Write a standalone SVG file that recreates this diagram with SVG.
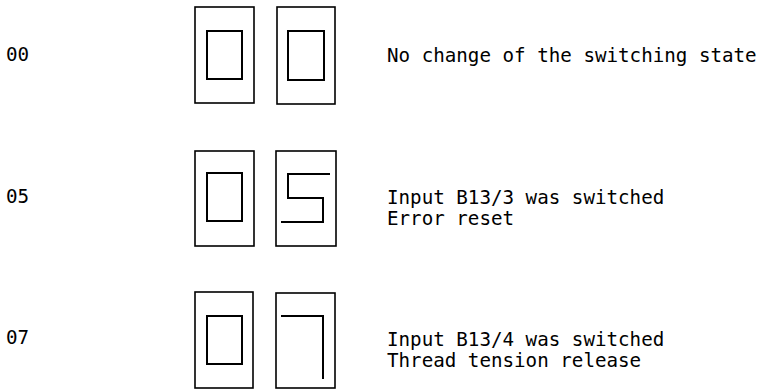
<svg xmlns="http://www.w3.org/2000/svg" width="761" height="389" viewBox="0 0 761 389">
<style>
.bg{fill:#fff}
.box{fill:none;stroke:#000;stroke-width:1.6}
.seg{fill:none;stroke:#000;stroke-width:2;stroke-linecap:square}
.t{font-family:"DejaVu Sans Mono","Liberation Mono",monospace;font-size:19.2px;fill:#000}
</style>
<rect class="bg" x="0" y="0" width="761" height="389"/>
<g id="row00">
  <text class="t" x="6" y="61">00</text>
  <g id="disp00-left">
    <rect class="box" x="195" y="7" width="59" height="96"/>
    <rect class="seg" x="207" y="31" width="35" height="48"/>
  </g>
  <g id="disp00-right">
    <rect class="box" x="277" y="7" width="58" height="97"/>
    <rect class="seg" x="288" y="31" width="36" height="49"/>
  </g>
  <text class="t" x="387" y="62">No change of the switching state</text>
</g>
<g id="row05">
  <text class="t" x="6" y="203">05</text>
  <g id="disp05-left">
    <rect class="box" x="195" y="151" width="59" height="95"/>
    <rect class="seg" x="207" y="173" width="35" height="48"/>
  </g>
  <g id="disp05-right">
    <rect class="box" x="276" y="151" width="60" height="95"/>
    <polyline class="seg" points="329,174 288,174 288,198 323,198 323,222 282,222"/>
  </g>
  <text class="t" x="387" y="204">Input B13/3 was switched</text>
  <text class="t" x="387" y="225">Error reset</text>
</g>
<g id="row07">
  <text class="t" x="6" y="344">07</text>
  <g id="disp07-left">
    <rect class="box" x="195" y="292" width="58" height="96"/>
    <rect class="seg" x="207" y="316" width="35" height="48"/>
  </g>
  <g id="disp07-right">
    <rect class="box" x="276" y="293" width="59" height="95"/>
    <polyline class="seg" points="282,316 323,316 323,378"/>
  </g>
  <text class="t" x="387" y="346">Input B13/4 was switched</text>
  <text class="t" x="387" y="367">Thread tension release</text>
</g>
</svg>
